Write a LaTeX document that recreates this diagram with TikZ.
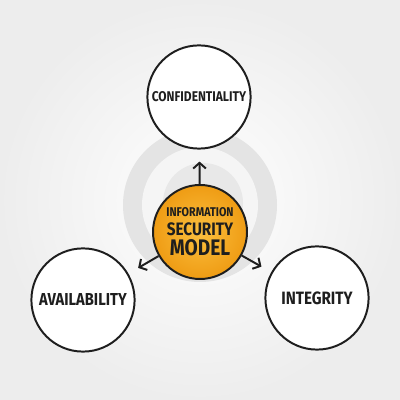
\documentclass[tikz,border=0pt]{standalone}
\usepackage{fontspec}
\setmainfont{Fira Sans}
\newfontfamily\handfont[FakeStretch=0.85]{Fira Sans}
\usepackage{xcolor}
\usetikzlibrary{arrows.meta}

\definecolor{ringgray}{HTML}{E4E4E4}
\definecolor{ringwhite}{HTML}{F5F5F5}
\definecolor{ballin}{HTML}{FBBF3E}
\definecolor{ballout}{HTML}{EF9C14}
\definecolor{ink}{HTML}{1E1E1E}

\tikzset{
  topic/.style={circle, draw=ink, line width=1.4pt, fill=white,
    minimum size=2.58cm, inner sep=0pt, text=ink, font=\handfont\bfseries},
  hub/.style={circle, draw=ink, line width=1.4pt, inner color=ballin,
    outer color=ballout, minimum size=2.35cm, inner sep=0pt, text=ink,
    font=\handfont\bfseries, align=center},
}

\begin{document}
\begin{tikzpicture}[>={Straight Barb[length=4pt,width=9pt]}]
  \useasboundingbox (0,0) rectangle (10,10);
  \shade[inner color=white, outer color=black!7] (0,0) rectangle (10,10);

  % rings behind the centre
  \fill[ringgray] (5,4.875) circle (1.925);
  \fill[ringwhite] (5,4.875) circle (1.45);
  \fill[ringgray!85] (5.075,4.925) circle (1.0);

  \node[hub] (model) at (5,4.2)
    {\fontsize{9}{10}\selectfont INFORMATION\\[1pt]
     \fontsize{12.8}{13}\selectfont SECURITY\\[2.5pt]
     \fontsize{16}{16}\selectfont MODEL};

  \node[topic, font=\handfont\bfseries\fontsize{10}{10}\selectfont] (conf) at (4.975,7.575) {CONFIDENTIALITY};
  \node[topic, font=\handfont\bfseries\fontsize{12.3}{12}\selectfont] (avail) at (2.075,2.5) {AVAILABILITY};
  \node[topic, font=\handfont\bfseries\fontsize{12.7}{12}\selectfont] (integ) at (7.925,2.55) {INTEGRITY};

  \draw[->, ink, line width=1.4pt, shorten >=0.3cm] (model) -- (conf);
  \draw[->, ink, line width=1.4pt, shorten >=0.28cm] (model) -- (avail);
  \draw[->, ink, line width=1.4pt, shorten >=0.28cm] (model) -- (integ);
\end{tikzpicture}
\end{document}
